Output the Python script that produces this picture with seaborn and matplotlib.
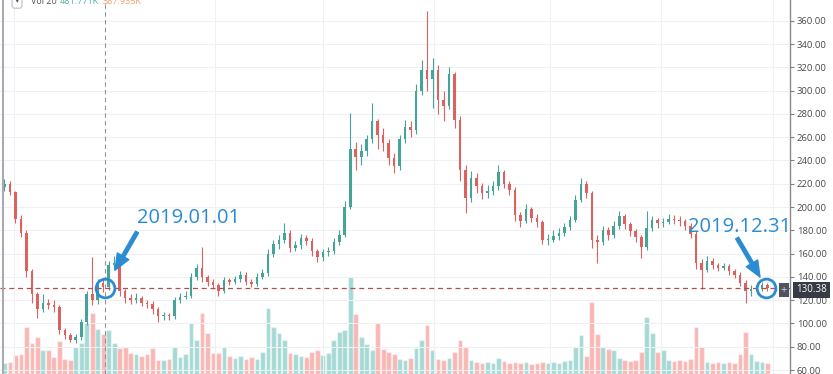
import matplotlib
matplotlib.use("Agg")
import matplotlib.pyplot as plt
import pandas as pd
import seaborn as sns

# ETH/USD, 3-day candles, 2018-11-07 .. 2019-12-31 (day 0 = 2019-01-01)
first_open = 217
closes = [220, 213, 190, 178, 145, 125, 112, 118, 116, 114,
          94, 90, 86, 88, 101, 125, 120, 135, 131, 150,
          152, 128, 122, 120, 122, 118, 117, 112, 106, 107,
          106, 120, 123, 124, 140, 148, 140, 136, 133, 128,
          137, 136, 138, 142, 136, 134, 140, 143, 160, 168,
          172, 178, 165, 167, 173, 171, 162, 157, 161, 162,
          170, 176, 200, 250, 243, 248, 258, 274, 262, 255,
          242, 235, 258, 269, 266, 300, 318, 310, 318, 292,
          287, 314, 275, 232, 208, 225, 218, 212, 214, 218,
          230, 220, 215, 193, 188, 198, 191, 187, 172, 172,
          175, 178, 183, 189, 206, 220, 212, 172, 170, 180,
          176, 184, 192, 185, 179, 174, 166, 182, 189, 186,
          187, 190, 189, 188, 184, 177, 152, 146, 154, 150,
          148, 149, 145, 142, 135, 128, 130, 130, 133, 130.38]
highs = [224, 222, 214, 193, 180, 147, 127, 125, 121, 120,
         116, 96, 92, 91, 104, 128, 157, 138, 139, 154,
         158, 154, 130, 125, 126, 124, 120, 119, 114, 110,
         109, 123, 126, 128, 143, 151, 166, 142, 138, 135,
         140, 139, 141, 145, 144, 138, 143, 147, 164, 172,
         176, 186, 180, 171, 177, 176, 173, 164, 164, 166,
         173, 180, 205, 281, 256, 254, 262, 289, 276, 268,
         258, 246, 262, 275, 274, 306, 326, 368, 328, 322,
         300, 320, 316, 278, 236, 231, 229, 221, 219, 222,
         236, 232, 222, 217, 196, 203, 200, 194, 189, 177,
         180, 182, 186, 192, 210, 225, 222, 214, 176, 184,
         183, 188, 197, 194, 187, 181, 176, 197, 192, 191,
         191, 194, 193, 192, 190, 186, 179, 155, 158, 156,
         152, 152, 151, 147, 144, 137, 133, 134, 136, 135]
lows = [214, 210, 186, 174, 140, 118, 105, 110, 112, 110,
        91, 87, 84, 83, 86, 99, 116, 117, 127, 129,
        146, 124, 118, 117, 118, 115, 113, 108, 101, 103,
        103, 104, 118, 121, 122, 137, 136, 132, 130, 124,
        126, 133, 134, 136, 133, 131, 132, 138, 141, 157,
        164, 169, 161, 162, 164, 167, 158, 153, 154, 158,
        160, 167, 174, 198, 232, 236, 244, 255, 250, 248,
        236, 229, 232, 255, 260, 263, 296, 300, 285, 280,
        274, 284, 268, 222, 195, 204, 212, 207, 208, 210,
        215, 216, 210, 188, 183, 186, 187, 183, 168, 167,
        170, 172, 175, 180, 187, 204, 208, 165, 152, 167,
        172, 173, 181, 181, 175, 170, 156, 163, 179, 182,
        183, 185, 185, 184, 180, 173, 147, 130, 144, 147,
        145, 146, 142, 139, 132, 118, 124, 127, 128, 128]
# volume in K
volumes = [110, 120, 190, 200, 470, 310, 370, 240, 240, 170,
           330, 150, 140, 270, 310, 510, 610, 450, 400, 440,
           310, 260, 270, 210, 200, 180, 200, 260, 140, 140,
           150, 270, 170, 200, 510, 340, 610, 410, 210, 210,
           270, 180, 160, 180, 150, 170, 150, 220, 660, 470,
           410, 340, 210, 200, 180, 170, 220, 240, 190, 210,
           340, 420, 440, 970, 600, 370, 300, 240, 510, 250,
           220, 200, 150, 140, 160, 260, 340, 490, 240, 150,
           140, 160, 220, 340, 270, 140, 120, 110, 120, 110,
           160, 130, 110, 120, 110, 120, 100, 110, 120, 110,
           120, 110, 130, 140, 270, 390, 180, 720, 400, 270,
           250, 240, 160, 140, 130, 140, 220, 570, 410, 220,
           240, 140, 130, 140, 130, 150, 470, 270, 120, 110,
           120, 110, 120, 110, 200, 420, 200, 130, 120, 110]
days = list(range(-55, 365, 3))

opens = [first_open] + closes[:-1]
up_col = "#45a397"
down_col = "#db625e"
blue = "#2b8bd3"

df = pd.DataFrame({"day": days, "open": opens, "close": closes,
                   "high": highs, "low": lows, "vol": volumes})
df["dir"] = ["up" if c >= o else "down" for o, c in zip(df["open"], df["close"])]
cols = [up_col if d == "up" else down_col for d in df["dir"]]

sns.set_style("white")
plt.rcParams["font.family"] = ["Open Sans", "DejaVu Sans"]

fig = plt.figure(figsize=(8.33, 3.74), dpi=100)
axv = fig.add_axes([0, 0, 790 / 833, 1])
ax = fig.add_axes([0, 0, 790 / 833, 1], facecolor="none")

# volume
sns.barplot(data=df, x="day", y="vol", hue="dir", native_scale=True, dodge=False,
            palette={"up": "#26a69a", "down": "#ef5350"}, width=0.85, alpha=0.42,
            saturation=1, legend=False, errorbar=None, ax=axv)
axv.set_xlim(-57.4, 374.3)
axv.set_ylim(0, 3740)
axv.axis("off")

# candles
ax.vlines(df["day"], df["low"], df["high"], colors=cols, lw=0.8, zorder=3)
body_bottom = [min(o, c) for o, c in zip(opens, closes)]
body_h = [max(abs(c - o), 0.6) for o, c in zip(opens, closes)]
ax.bar(df["day"], body_h, bottom=body_bottom, width=1.4, color=cols, lw=0, zorder=3)

ax.set_xlim(-57.4, 374.3)
ax.set_ylim(56.6, 377.8)
ax.set_xticks([-50, 60, 119, 180, 243, 304, 365])
ax.set_yticks(range(60, 380, 20))
ax.set_yticklabels([f"{v:.2f}" for v in range(60, 380, 20)])
ax.yaxis.tick_right()
ax.tick_params(axis="x", length=0, labelbottom=False)
ax.tick_params(axis="y", length=3, width=0.8, color="#7d8088", labelsize=6.8,
               labelcolor="#4a4a4a", pad=2)
ax.grid(True, color="#eef0f4", lw=0.8, zorder=0)
for s in ["top", "left", "bottom"]:
    ax.spines[s].set_visible(False)
ax.spines["right"].set_color("#8a8a8a")
ax.spines["right"].set_linewidth(1)

# crosshair and last price line
ax.axvline(0, color="#8f939c", lw=0.8, ls=(0, (4, 3)), zorder=4)
ax.axhline(130.38, color="#b0504d", lw=0.9, ls=(0, (4, 3)), zorder=4)

# annotations
ax.text(45.4, 190.5, "2019.01.01", ha="center", va="center", fontsize=14.5, color=blue, zorder=6)
ax.text(347, 182.5, "2019.12.31", ha="center", va="center", fontsize=14.5, color=blue, zorder=6)
arrow = dict(arrowstyle="simple,head_length=0.6,head_width=0.5,tail_width=0.13",
             color=blue, shrinkA=0, shrinkB=0, mutation_scale=19)
ax.annotate("", xy=(5.5, 145.9), xytext=(17.5, 178.5), arrowprops=arrow, zorder=6)
ax.annotate("", xy=(357.9, 139.9), xytext=(345.4, 173.4), arrowprops=arrow, zorder=6)
ax.plot([0, 361], [130.38, 130.38], "o", ms=13.5, mfc="none", mec=blue, mew=2, zorder=7)

# price label on the axis
fig.text(796 / 833, 1 - 290 / 374, "130.38", ha="left", va="center", fontsize=7, color="white",
         bbox=dict(boxstyle="square,pad=0.3", fc="#363a45", ec="none"))
fig.text(784 / 833, 1 - 290 / 374, "+", ha="center", va="center", fontsize=8, color="#d0d3da",
         bbox=dict(boxstyle="square,pad=0.15", fc="#50545e", ec="none"))

# legend row, cut off at the top edge as in the screenshot
fig.text(17 / 833, 1 - 1 / 374, "▾", ha="center", va="center", fontsize=6.5, color="#555",
         bbox=dict(boxstyle="round,pad=0.3", fc="white", ec="#c8cacf"))
fig.text(31 / 833, 1 - 1 / 374, "Vol 20", ha="left", va="center", fontsize=6.5, color="#555")
fig.text(60 / 833, 1 - 1 / 374, "481.771K", ha="left", va="center", fontsize=6.5, color="#4fb3a6")
fig.text(103 / 833, 1 - 1 / 374, "387.935K", ha="left", va="center", fontsize=6.5, color="#f0a070")
fig.add_artist(plt.Line2D([3 / 833, 3 / 833], [0, 1], color="#a9abb0", lw=1.5))

fig.savefig("out.png", dpi=100)
